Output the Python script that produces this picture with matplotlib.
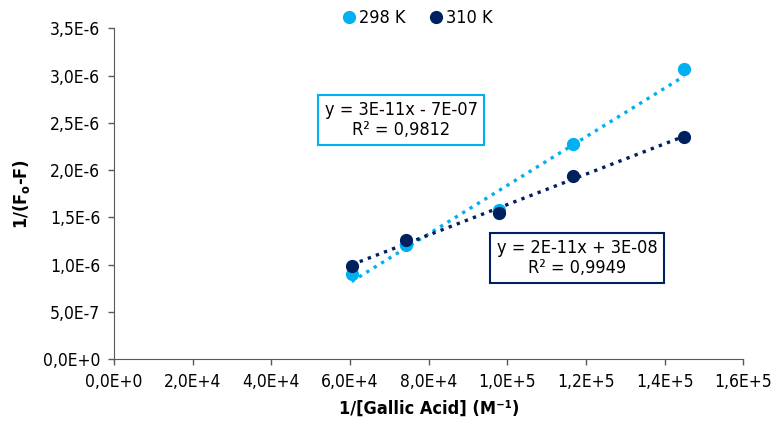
import math
import numpy as np
import matplotlib
matplotlib.use("Agg")
import matplotlib.pyplot as plt
from matplotlib.ticker import MultipleLocator, FuncFormatter

# Data
inv_conc = [6.04e4, 7.41e4, 9.79e4, 1.167e5, 1.449e5]
y_298 = [0.90e-6, 1.21e-6, 1.58e-6, 2.28e-6, 3.07e-6]
y_310 = [0.98e-6, 1.26e-6, 1.55e-6, 1.94e-6, 2.35e-6]

light = "#00B0F0"
navy = "#002060"

plt.rcParams['font.family'] = ['DejaVu Sans']
plt.rcParams['font.stretch'] = 'condensed'


def sci_comma(v, pos=None):
    if v == 0:
        return "0,0E+0"
    exp = int(math.floor(math.log10(abs(v)) + 1e-9))
    mant = round(v / 10 ** exp, 1)
    if abs(mant) >= 10:
        mant /= 10
        exp += 1
    return f"{mant:.1f}".replace(".", ",") + f"E{exp:+d}"


fig = plt.figure(figsize=(7.76, 4.30), dpi=100)
ax = fig.add_axes([0.147, 0.165, 0.811, 0.769])

for ys, col, lab in [(y_298, light, "298 K"), (y_310, navy, "310 K")]:
    ax.plot(inv_conc, ys, 'o', color=col, markersize=8.5, label=lab, zorder=3)
    k, b = np.polyfit(inv_conc, ys, 1)
    xs = np.array([min(inv_conc), max(inv_conc)])
    ax.plot(xs, k * xs + b, linestyle=(0, (1, 1.6)), color=col, linewidth=2.4, zorder=2)

ax.set_xlim(0, 1.6e5)
ax.set_ylim(0, 3.5e-6)
ax.xaxis.set_major_locator(MultipleLocator(2e4))
ax.yaxis.set_major_locator(MultipleLocator(5e-7))
ax.xaxis.set_major_formatter(FuncFormatter(sci_comma))
ax.yaxis.set_major_formatter(FuncFormatter(sci_comma))
ax.tick_params(direction='out', length=4, width=1, color='#595959', labelsize=12.5, pad=6)

for s in ['top', 'right']:
    ax.spines[s].set_visible(False)
for s in ['left', 'bottom']:
    ax.spines[s].set_color('#595959')

ax.set_xlabel("1/[Gallic Acid] (M⁻¹)", fontsize=13, fontweight='bold', labelpad=6)
ax.set_ylabel("1/(F$_{\\mathregular{o}}$-F)", fontsize=13, fontweight='bold', labelpad=8)

fig.legend(*ax.get_legend_handles_labels(), loc='center',
           bbox_to_anchor=(416 / 776, 1 - 18 / 430), ncol=2, frameon=False,
           fontsize=13, handletextpad=0.05, columnspacing=1.2, handlelength=1.0,
           borderpad=0, borderaxespad=0)

fig.text(401 / 776, 1 - 120 / 430, "y = 3E-11x - 7E-07\nR² = 0,9812", ha='center', va='center',
         fontsize=13, linespacing=1.1,
         bbox=dict(boxstyle='square,pad=0.35', facecolor='white', edgecolor=light, linewidth=1.5))
fig.text(577 / 776, 1 - 258 / 430, "y = 2E-11x + 3E-08\nR² = 0,9949", ha='center', va='center',
         fontsize=13, linespacing=1.1,
         bbox=dict(boxstyle='square,pad=0.35', facecolor='white', edgecolor=navy, linewidth=1.5))

fig.savefig("out.png", dpi=100)
